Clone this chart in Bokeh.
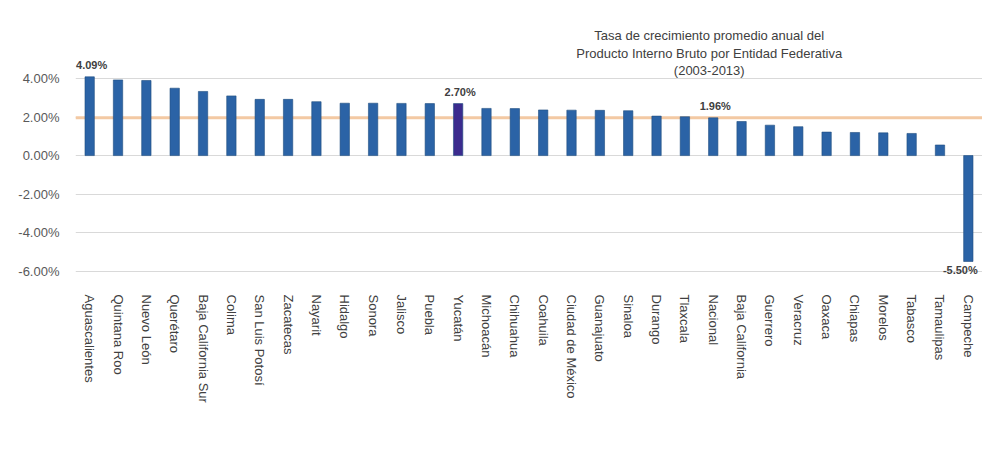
from bokeh.plotting import figure
from bokeh.models import ColumnDataSource, Span, PrintfTickFormatter, Range1d, FactorRange
from bokeh.core.properties import value
from bokeh.embed import file_html
from bokeh.resources import INLINE

states = ["Aguascalientes", "Quintana Roo", "Nuevo León", "Querétaro", "Baja California Sur",
          "Colima", "San Luis Potosí", "Zacatecas", "Nayarit", "Hidalgo", "Sonora", "Jalisco",
          "Puebla", "Yucatán", "Michoacán", "Chihuahua", "Coahuila", "Ciudad de México",
          "Guanajuato", "Sinaloa", "Durango", "Tlaxcala", "Nacional", "Baja California",
          "Guerrero", "Veracruz", "Oaxaca", "Chiapas", "Morelos", "Tabasco", "Tamaulipas",
          "Campeche"]
growth = [4.09, 3.93, 3.90, 3.50, 3.33, 3.10, 2.92, 2.92, 2.80, 2.72, 2.72, 2.71,
          2.70, 2.70, 2.45, 2.44, 2.37, 2.36, 2.35, 2.33, 2.05, 2.02, 1.96, 1.77,
          1.58, 1.50, 1.22, 1.20, 1.18, 1.15, 0.55, -5.50]
highlight = "Yucatán"
labelled = ["Aguascalientes", "Yucatán", "Nacional"]
national = 1.96
title_lines = ["Tasa de crecimiento promedio anual del",
               "Producto Interno Bruto por Entidad Federativa",
               "(2003-2013)"]
title_y = [6.23, 5.30, 4.42]

FONT = "Liberation Sans"
BLUE = "#2b63a6"
PURPLE = "#3b2b8e"

colors = [PURPLE if s == highlight else BLUE for s in states]
src = ColumnDataSource(dict(x=states, y=growth, c=colors))

p = figure(frame_width=907, frame_height=268, x_range=FactorRange(*states),
           y_range=Range1d(-6.8, 7.12),
           output_backend="svg", toolbar_location=None,
           min_border_left=75, min_border_right=0, min_border_top=18, min_border_bottom=188)
p.outline_line_color = None
p.background_fill_color = "white"
p.border_fill_color = "white"

p.xgrid.grid_line_color = None
p.ygrid.grid_line_color = "#d9d9d9"
p.ygrid.grid_line_width = 1

p.add_layout(Span(location=national, dimension="width", line_color="#f3c9a3",
                  line_width=3, level="underlay"))

p.vbar(x="x", top="y", bottom=0, width=0.33, fill_color="c", line_color="#1f4e80",
       line_width=0.6, source=src)

pos = [(s, g) for s, g in zip(states, growth) if s in labelled and g >= 0]
neg = [(s, g) for s, g in zip(states, growth) if g < 0]
p.text(x=[a for a, b in pos], y=[b for a, b in pos], text=[f"{b:.2f}%" for a, b in pos],
       text_align="center", text_baseline="bottom", y_offset=-6, x_offset=2,
       text_font=value(FONT), text_font_size="11px", text_font_style="bold", text_color="#404040")
p.text(x=[a for a, b in neg], y=[b for a, b in neg], text=[f"{b:.2f}%" for a, b in neg],
       text_align="center", text_baseline="top", y_offset=3, x_offset=-8,
       text_font=value(FONT), text_font_size="11px", text_font_style="bold", text_color="#404040")

p.text(x=["Nacional"] * len(title_lines), y=title_y, text=title_lines,
       text_align="center", text_baseline="middle", x_offset=-4,
       text_font=value(FONT), text_font_size="13px", text_color="#404040")

p.yaxis.ticker = [-6, -4, -2, 0, 2, 4]
p.yaxis.formatter = PrintfTickFormatter(format="%.2f%%")
p.yaxis.axis_line_color = None
p.yaxis.major_tick_line_color = None
p.yaxis.minor_tick_line_color = None
p.yaxis.major_label_standoff = 10
p.yaxis.major_label_text_font = FONT
p.yaxis.major_label_text_font_size = "13px"
p.yaxis.major_label_text_color = "#595959"

p.xaxis.axis_line_color = None
p.xaxis.major_tick_line_color = None
p.xaxis.minor_tick_line_color = None
p.xaxis.major_label_orientation = "vertical"
p.xaxis.major_label_standoff = 2
p.xaxis.major_label_text_font = FONT
p.xaxis.major_label_text_font_size = "13px"
p.xaxis.major_label_text_color = "#404040"

open("out.html", "w").write(file_html(p, INLINE))
